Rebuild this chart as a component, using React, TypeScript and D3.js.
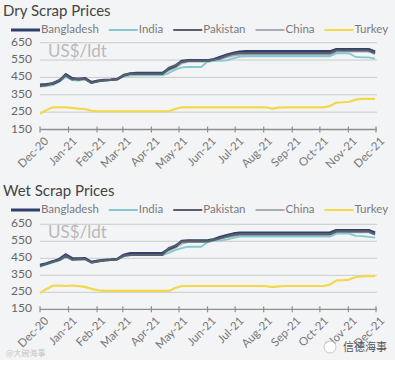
import React, { useMemo } from "react";
import * as d3 from "d3";

const seriesNames = ["Bangladesh", "India", "Pakistan", "China", "Turkey"];
const seriesColors = ["#2e3f6d", "#84c9d0", "#59606b", "#a9adb3", "#f2d84a"];
const seriesWidths = [2.6, 1.8, 2.2, 1.6, 2.2];
const yTicks = [150, 250, 350, 450, 550, 650];

// weekly observations starting 1 Dec 2020
const dryBangladesh = [408, 410, 415, 430, 468, 445, 440, 445, 422, 430, 435, 437, 440, 462, 472, 475, 475, 475, 475, 475, 500, 515, 545, 548, 548, 548, 548, 555, 568, 580, 590, 598, 600, 600, 600, 600, 600, 600, 600, 600, 600, 600, 600, 600, 600, 600, 612, 612, 612, 612, 612, 612, 598];
const dryPakistan = [400, 405, 418, 435, 462, 438, 442, 440, 418, 428, 433, 436, 440, 465, 470, 470, 470, 470, 470, 470, 505, 520, 540, 545, 545, 545, 545, 552, 560, 575, 585, 590, 590, 590, 590, 590, 590, 590, 590, 590, 590, 590, 590, 590, 590, 590, 605, 605, 605, 605, 605, 605, 590];
const dryIndia = [398, 400, 405, 425, 452, 435, 432, 440, 425, 428, 430, 435, 440, 455, 460, 462, 462, 462, 462, 462, 475, 495, 508, 510, 510, 510, 540, 546, 546, 548, 560, 570, 572, 572, 572, 572, 572, 572, 572, 572, 572, 572, 572, 572, 572, 572, 588, 590, 588, 568, 566, 565, 558];
const dryChina = [405, 410, 418, 432, 458, 440, 438, 442, 420, 430, 434, 437, 442, 460, 468, 468, 468, 468, 468, 468, 490, 505, 530, 540, 540, 540, 540, 548, 556, 565, 575, 580, 580, 580, 580, 580, 580, 580, 580, 580, 580, 580, 580, 580, 580, 580, 595, 598, 598, 598, 598, 598, 585];
const dryTurkey = [240, 262, 278, 278, 278, 275, 270, 268, 258, 255, 255, 255, 255, 255, 255, 255, 255, 255, 255, 255, 255, 268, 278, 278, 278, 278, 278, 278, 278, 278, 278, 278, 278, 278, 278, 278, 270, 276, 278, 278, 278, 278, 278, 278, 278, 285, 305, 307, 310, 322, 326, 326, 326];

const wetBangladesh = [410, 420, 432, 445, 472, 450, 448, 450, 428, 435, 440, 442, 445, 470, 480, 480, 480, 480, 480, 480, 505, 520, 552, 555, 555, 555, 555, 562, 575, 585, 595, 600, 600, 600, 600, 600, 600, 600, 600, 600, 600, 600, 600, 600, 600, 600, 615, 615, 615, 615, 615, 615, 600];
const wetPakistan = [405, 418, 430, 440, 465, 442, 445, 445, 425, 432, 438, 440, 445, 465, 470, 470, 470, 470, 470, 470, 510, 525, 548, 550, 550, 550, 550, 558, 568, 578, 588, 592, 592, 592, 592, 592, 592, 592, 592, 592, 592, 592, 592, 592, 592, 592, 608, 608, 608, 608, 608, 608, 592];
const wetIndia = [400, 412, 425, 438, 455, 440, 440, 445, 430, 435, 438, 440, 445, 460, 468, 470, 470, 470, 470, 470, 482, 498, 510, 518, 518, 518, 545, 553, 555, 560, 570, 577, 577, 577, 577, 577, 577, 577, 577, 577, 577, 577, 577, 577, 577, 577, 595, 597, 595, 582, 580, 576, 572];
const wetChina = [408, 418, 428, 440, 460, 445, 442, 446, 428, 434, 438, 441, 446, 465, 472, 474, 474, 474, 474, 474, 495, 510, 535, 545, 545, 545, 545, 555, 565, 572, 580, 585, 585, 585, 585, 585, 585, 585, 585, 585, 585, 585, 585, 585, 585, 585, 600, 602, 602, 602, 602, 602, 588];
const wetTurkey = [245, 270, 288, 290, 287, 290, 286, 282, 270, 262, 258, 258, 258, 258, 258, 258, 258, 258, 258, 258, 258, 275, 287, 287, 287, 287, 287, 287, 287, 287, 287, 287, 287, 287, 287, 287, 280, 285, 287, 287, 287, 287, 287, 287, 287, 295, 320, 322, 325, 340, 343, 345, 345];

const drySeries = [dryBangladesh, dryIndia, dryPakistan, dryChina, dryTurkey];
const wetSeries = [wetBangladesh, wetIndia, wetPakistan, wetChina, wetTurkey];

const FONT = "Lato, 'Open Sans', sans-serif";
const drawOrder = [4, 3, 1, 0, 2];

const xScale = d3
  .scaleTime()
  .domain([new Date(2020, 11, 1), new Date(2021, 11, 1)])
  .range([40, 376]);

const dateOf = (i: number) => d3.timeDay.offset(new Date(2020, 11, 1), 7 * i);
const fmt = d3.timeFormat("%b-%y");

function measure(text: string, font: string) {
  const c = document.createElement("canvas").getContext("2d");
  if (!c) return text.length * 6;
  c.font = font;
  return c.measureText(text).width;
}

function Chart({ top, title, series, yTop, yBottom }: { top: number; title: string; series: number[][]; yTop: number; yBottom: number }) {
  const y = d3.scaleLinear().domain([150, 650]).range([yBottom, yTop]);
  const line = d3
    .line<number>()
    .x((_, i) => xScale(dateOf(i)))
    .y((v) => y(v));
  const months = xScale.ticks(d3.timeMonth.every(1) as any);

  const legend = useMemo(() => {
    let x = 11;
    return seriesNames.map((n) => {
      const w = measure(n, `11.5px ${FONT}`);
      const item = { x1: x, x2: x + 29, tx: x + 30 };
      x = x + 30 + w + 10;
      return item;
    });
  }, []);

  const legendY = top + 30;
  return (
    <g>
      <text x={3} y={top + 16} fontFamily={FONT} fontSize={15} fill="#444">
        {title}
      </text>
      {seriesNames.map((n, i) => (
        <g key={n}>
          <line x1={legend[i].x1} x2={legend[i].x2} y1={legendY} y2={legendY} stroke={seriesColors[i]} strokeWidth={i === 0 ? 3 : 2} />
          <text x={legend[i].tx} y={legendY} dominantBaseline="middle" fontFamily={FONT} fontSize={11.5} fill="#7a7a7a">
            {n}
          </text>
        </g>
      ))}
      {yTicks.map((t) => (
        <g key={t}>
          {t > 150 && <line x1={40} x2={377} y1={y(t)} y2={y(t)} stroke="#cbcbcb" strokeWidth={1} />}
          <text x={32} y={y(t)} textAnchor="end" dominantBaseline="middle" fontFamily={FONT} fontSize={12} fill="#666">
            {t}
          </text>
        </g>
      ))}
      <text x={48} y={yTop + 14} fontFamily={FONT} fontSize={17} fill="#b9b9b9">
        US$/ldt
      </text>
      {drawOrder.map((k) => (
        <path key={k} d={line(series[k]) || ""} fill="none" stroke={seriesColors[k]} strokeWidth={seriesWidths[k]} strokeLinejoin="round" />
      ))}
      <line x1={40} x2={377} y1={yBottom} y2={yBottom} stroke="#8e8e8e" strokeWidth={1.3} />
      {months.map((m) => (
        <g key={+m} transform={`translate(${xScale(m)},${yBottom})`}>
          <line y1={-3} y2={3} stroke="#8e8e8e" strokeWidth={1.2} />
          <text transform="translate(3,6) rotate(-45)" textAnchor="end" dominantBaseline="hanging" fontFamily={FONT} fontSize={11.5} fill="#777">
            {fmt(m)}
          </text>
        </g>
      ))}
    </g>
  );
}

export default function App() {
  return (
    <svg width={395} height={365} style={{ position: "absolute", left: 0, top: 0 }}>
      <rect width={395} height={365} fill="#ffffff" />
      <rect width={395} height={360} fill="#f3f4f6" />
      <Chart top={0} title="Dry Scrap Prices" series={drySeries} yTop={42.7} yBottom={129.5} />
      <Chart top={180} title="Wet Scrap Prices" series={wetSeries} yTop={224.3} yBottom={309.3} />
      <text x={6} y={356} fontFamily="'Noto Sans CJK SC', sans-serif" fontSize={8} fill="#c4c4c4">
        @大碗海事
      </text>
      <circle cx={330} cy={347} r={6} fill="#ffffff" stroke="#bbb" strokeWidth={0.8} />
      <text x={343} y={351} fontFamily="'Noto Sans CJK SC', sans-serif" fontSize={11} fill="#555">
        信德海事
      </text>
    </svg>
  );
}
